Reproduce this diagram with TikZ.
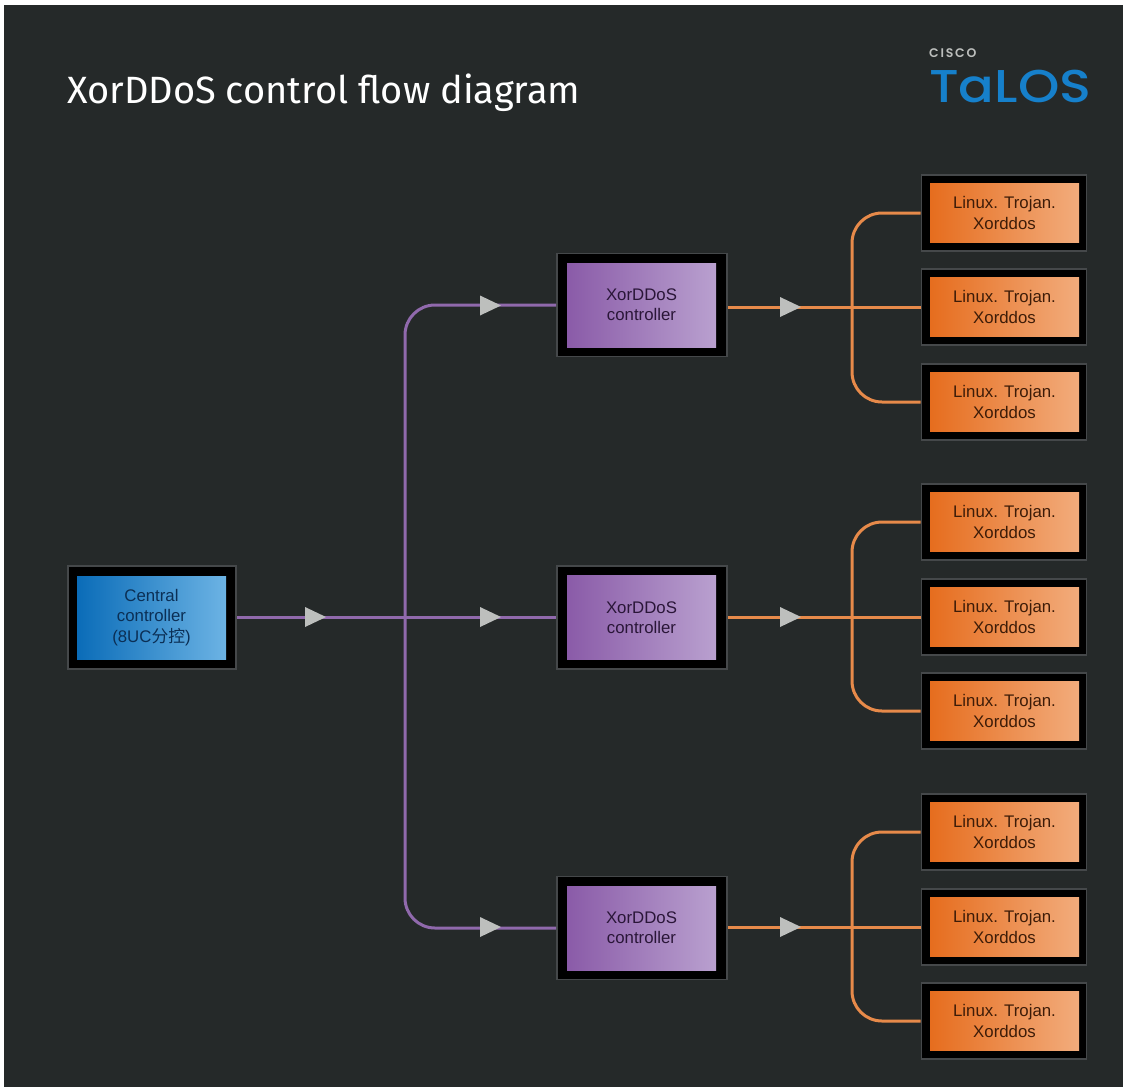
\documentclass[tikz,border=0pt]{standalone}
\usepackage{fontspec}
\setmainfont{Liberation Sans}
\newfontfamily\titlefont{Fira Sans}
\newfontfamily\logofont{Poppins Medium}
\newfontfamily\ciscofont[LetterSpace=14]{Poppins SemiBold}
\newfontfamily\cjkfont{Noto Sans CJK SC}
\definecolor{bgdark}{HTML}{252929}
\definecolor{boxedge}{HTML}{45484A}
\definecolor{linepurple}{HTML}{9069AC}
\definecolor{lineorange}{HTML}{E78A4A}
\definecolor{arrowgray}{HTML}{BDBFBD}
\definecolor{logoblue}{HTML}{1680CB}
\definecolor{facebluea}{HTML}{0A6CB8}
\definecolor{faceblueb}{HTML}{6CB3E4}
\definecolor{textblue}{HTML}{0B2F55}
\definecolor{facepurplea}{HTML}{8A5BA8}
\definecolor{facepurpleb}{HTML}{B9A0CF}
\definecolor{textpurple}{HTML}{2A1638}
\definecolor{faceorangea}{HTML}{E66D1E}
\definecolor{faceorangeb}{HTML}{F2AC7C}
\definecolor{textorange}{HTML}{3D1C08}
\tikzset{
  x=1pt,y=-1pt,
  frame/.style={draw=boxedge,line width=1.8pt,fill=black,inner sep=0pt},
  ctrlframe/.style={frame,minimum width=168pt,minimum height=103pt},
  leafframe/.style={frame,minimum width=165pt,minimum height=76pt},
  facelabel/.style={inner sep=0pt,align=center,font=\fontsize{16.8}{20.2}\selectfont},
  bluebox/.style={facelabel,minimum width=149pt,minimum height=83pt,left color=facebluea,right color=faceblueb,text=textblue},
  purplebox/.style={facelabel,minimum width=149pt,minimum height=84pt,left color=facepurplea,right color=facepurpleb,text=textpurple},
  orangebox/.style={facelabel,minimum width=149pt,minimum height=59pt,left color=faceorangea,right color=faceorangeb,text=textorange},
  purpleline/.style={draw=linepurple,line width=3pt,rounded corners=30pt},
  orangeline/.style={draw=lineorange,line width=3pt,rounded corners=30pt},
  arrowtri/.style={fill=arrowgray},
}
\newcommand\arrowmark[2]{\fill[arrowtri] (#1-10,#2-10) -- (#1+11,#2) -- (#1-10,#2+10) -- cycle;}
\newcommand\leafgroup[5]{%
  \foreach \n/\yy in {a/#2,b/#3,c/#4}{
    \node[leafframe] (#1\n) at (1004,\yy) {};
    \node[orangebox] (#1\n face) at (1004.5,\yy) {Linux. Trojan.\\Xorddos};
  }
  \draw[orangeline] (#1a.west) -| (852,#3) |- (#1c.west);
  \draw[orangeline] (#5.east |- #1b.west) -- (#1b.west);
}
\begin{document}
\begin{tikzpicture}
\useasboundingbox (0,0) rectangle (1123,1087);
\fill[white] (0,0) rectangle (1123,1087);
\fill[bgdark] (4,5) rectangle (1123,1087);

\node[anchor=base west,text=white,inner sep=0pt,font=\titlefont\fontsize{38}{40}\selectfont] (title) at (67,103) {XorDDoS control flow diagram};
\node[anchor=base west,text=arrowgray,inner sep=0pt,font=\ciscofont\fontsize{12.5}{14}\selectfont] (cisco) at (929,57) {CISCO};
\node[anchor=base west,text=logoblue,inner sep=0pt,font=\logofont\fontsize{46}{46}\selectfont] (talos) at (929,102) {\scalebox{1.145}[1]{TaLOS}};

\node[ctrlframe] (central) at (152,617.5) {};
\node[bluebox] (centralface) at (151.5,617.5) {Central\\controller\\(8UC{\cjkfont 分控})};

\node[ctrlframe,minimum width=170pt] (ctrla) at (642,305) {};
\node[purplebox] (ctrlaface) at (641.5,305) {XorDDoS\\controller};
\node[ctrlframe,minimum width=170pt] (ctrlb) at (642,617.5) {};
\node[purplebox] (ctrlbface) at (641.5,617.5) {XorDDoS\\controller};
\node[ctrlframe,minimum width=170pt] (ctrlc) at (642,928) {};
\node[purplebox] (ctrlcface) at (641.5,928) {XorDDoS\\controller};

\draw[purpleline] (ctrla.west) -| (405,617) |- (ctrlc.west);
\draw[purpleline] (central.east) -- (ctrlb.west);

\leafgroup{la}{213}{307}{402}{ctrla}
\leafgroup{lb}{522}{617}{711}{ctrlb}
\leafgroup{lc}{832}{927}{1021}{ctrlc}

\arrowmark{315}{617}
\arrowmark{490}{305.5}
\arrowmark{490}{617}
\arrowmark{490}{927}
\arrowmark{790}{307}
\arrowmark{790}{617}
\arrowmark{790}{927}
\end{tikzpicture}
\end{document}
